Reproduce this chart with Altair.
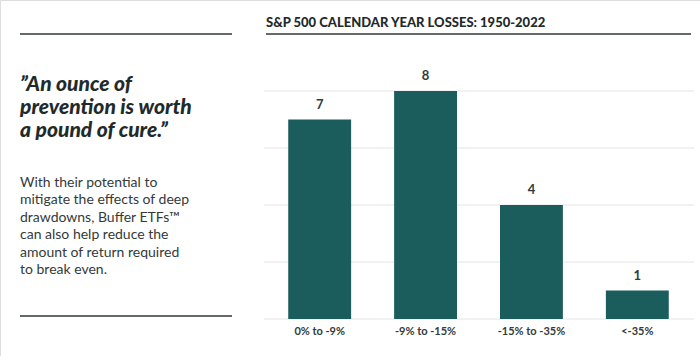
import altair as alt
import pandas as pd

# ---- data ----
categories = ["0% to -9%", "-9% to -15%", "-15% to -35%", "<-35%"]
counts = [7, 8, 4, 1]
grid_values = [0, 2, 4, 6, 8]

title_text = "S&P 500 CALENDAR YEAR LOSSES: 1950-2022"
quote_lines = ["\u201dAn ounce of", "prevention is worth", "a pound of cure.\u201d"]
body_lines = [
    "With their potential to",
    "mitigate the effects of deep",
    "drawdowns, Buffer ETFs\u2122",
    "can also help reduce the",
    "amount of return required",
    "to break even.",
]

FONT = "Lato"
BAR = "#1b5c5c"
DARK = "#1f2b2b"
TEXT = "#333a3a"

df = pd.DataFrame({"cat": categories, "n": counts})
grid_df = pd.DataFrame({"v": grid_values})

xs = alt.Scale(domain=categories, range=[266, 691], paddingInner=0.406, paddingOuter=0.21)
ys = alt.Scale(domain=[0, 8], range=[319, 91], nice=False, zero=True)

X = alt.X("cat:N", scale=xs, axis=None, sort=categories)
Y = alt.Y("n:Q", scale=ys, axis=None)

grid = alt.Chart(grid_df).mark_rule(color="#e4e4e4", strokeWidth=1).encode(
    y=alt.Y("v:Q", scale=ys, axis=None),
    x=alt.value(264),
    x2=alt.value(694),
)

bars = alt.Chart(df).mark_bar(color=BAR).encode(x=X, y=Y)

values = alt.Chart(df).mark_text(
    font=FONT, fontSize=13, fontWeight="bold", color=TEXT, baseline="bottom", dy=-8
).encode(x=X, y=Y, text="n:Q")

xlabels = alt.Chart(df).mark_text(
    font=FONT, fontSize=11, fontWeight="bold", color=TEXT, baseline="alphabetic"
).encode(x=X, y=alt.value(335), text="cat:N")

one = alt.Data(values=[{}])

def txt(s, x, y, **kw):
    return alt.Chart(one).mark_text(align="left", baseline="alphabetic", font=FONT, **kw).encode(
        x=alt.value(x), y=alt.value(y), text=alt.value(s)
    )

def hrule(x1, x2, y, color, w):
    return alt.Chart(one).mark_rule(color=color, strokeWidth=w).encode(
        x=alt.value(x1), x2=alt.value(x2), y=alt.value(y)
    )

layers = [grid, bars, values, xlabels]
layers.append(txt(title_text, 266, 27, fontSize=13, fontWeight=900, color=DARK))
layers.append(hrule(266, 691, 34, "#2f3838", 1.5))
layers.append(hrule(20, 232, 34, "#2f3838", 1.5))
layers.append(hrule(20, 232, 316, "#2f3838", 1.5))
for i, s in enumerate(quote_lines):
    layers.append(txt(s, 20, 91 + i * 23, fontSize=21, fontWeight=900, fontStyle="italic", color=DARK))
for i, s in enumerate(body_lines):
    layers.append(txt(s, 20, 187 + i * 17.4, fontSize=14, color=TEXT))

chart = alt.layer(*layers).properties(
    width=700, height=356, padding=0, autosize=alt.AutoSizeParams(type="none")
).configure_view(stroke=None).configure(background="white")

chart.save("out.html", embed_options={"renderer": "svg", "actions": False})
